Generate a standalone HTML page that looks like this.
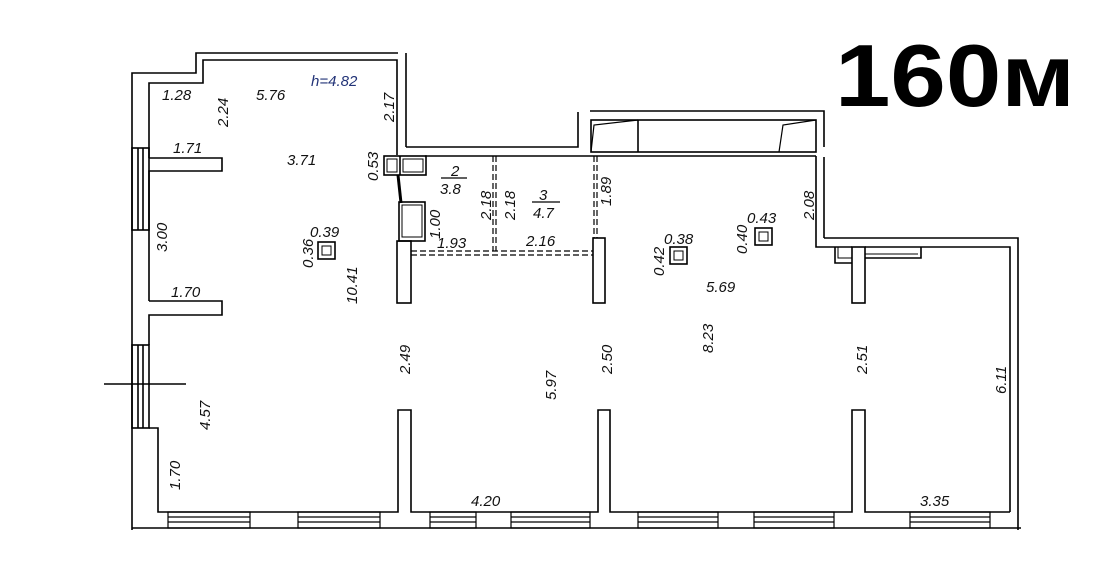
<!DOCTYPE html>
<html><head><meta charset="utf-8"><style>
html,body{margin:0;padding:0;background:#fff;}
svg{display:block;}
text{font-family:"Liberation Sans",sans-serif;font-style:italic;font-size:15px;fill:#111;}
</style></head><body>
<svg width="1098" height="584" viewBox="0 0 1098 584" xmlns="http://www.w3.org/2000/svg">
<g fill="none" stroke="#000" stroke-width="1.6">
<!-- left outer wall -->
<polyline points="132,530 132,73 149,73"/>
<polyline points="149,73 196,73 196,53 398,53"/>
<polyline points="149,158 149,83 203,83 203,60 397,60 397,155"/>
<line x1="406" y1="53" x2="406" y2="147"/>
<polyline points="406,147 578,147 578,112"/>
<!-- 1.71 wall -->
<polyline points="149,158 222,158 222,171 149,171 149,301"/>
<polyline points="149,301 222,301 222,315 149,315 149,345"/>
<!-- left windows -->
<rect x="132" y="148" width="17" height="82"/>
<line x1="138" y1="148" x2="138" y2="230"/><line x1="143" y1="148" x2="143" y2="230"/>
<rect x="132" y="345" width="17" height="83"/>
<line x1="138" y1="345" x2="138" y2="428"/><line x1="143" y1="345" x2="143" y2="428"/>
<line x1="104" y1="384" x2="186" y2="384"/>
<polyline points="149,428 158,428 158,512 398,512 398,410 411,410 411,512 598,512 598,410 610,410 610,512 852,512 852,410 865,410 865,512 1010,512"/>
<line x1="132" y1="528" x2="1021" y2="528"/>
<!-- small boxes -->
<rect x="384" y="156" width="42" height="19"/>
<line x1="400" y1="156" x2="400" y2="175"/>
<rect x="387" y="159" width="10" height="13" stroke-width="1"/>
<rect x="403" y="159" width="20" height="13" stroke-width="1"/>
<line x1="398" y1="175" x2="401" y2="203" stroke-width="3"/>
<rect x="399" y="202" width="26" height="39"/>
<rect x="402" y="205" width="20" height="32" stroke-width="1"/>
<rect x="397" y="241" width="14" height="62"/>
<line x1="425" y1="156" x2="595" y2="156"/>
<!-- dashed -->
<g stroke-dasharray="6,3" stroke-width="1.2">
<line x1="411" y1="251" x2="593" y2="251"/><line x1="411" y1="255" x2="593" y2="255"/>
<line x1="493" y1="156" x2="493" y2="251"/><line x1="496" y1="156" x2="496" y2="251"/>
<line x1="594" y1="156" x2="594" y2="238"/><line x1="597" y1="156" x2="597" y2="238"/>
</g>
<rect x="593" y="238" width="12" height="65"/>
<!-- top right unit -->
<polyline points="590,111 824,111 824,147"/>
<line x1="824" y1="157" x2="824" y2="238"/>
<rect x="591" y="120" width="225" height="32"/>
<line x1="638" y1="120" x2="638" y2="152"/>
<polyline points="591,152 594,125 638,120" stroke-width="1.2"/>
<polyline points="779,152 783,125 816,120" stroke-width="1.2"/>
<line x1="595" y1="156" x2="816" y2="156"/>
<polyline points="816,156 816,247 852,247"/>
<polyline points="824,238 1018,238 1018,530"/>
<polyline points="865,247 1010,247 1010,512"/>
<rect x="852" y="247" width="13" height="56"/>
<polyline points="852,263 835,263 835,247"/>
<polyline points="852,258 838,258 838,247" stroke-width="1"/>
<polyline points="865,258 921,258 921,247"/>
<line x1="865" y1="254" x2="918" y2="254" stroke-width="1"/>
<!-- vents -->
<rect x="318" y="242" width="17" height="17"/><rect x="322" y="246" width="9" height="9" stroke-width="1"/>
<rect x="670" y="247" width="17" height="17"/><rect x="674" y="251" width="9" height="9" stroke-width="1"/>
<rect x="755" y="228" width="17" height="17"/><rect x="759" y="232" width="9" height="9" stroke-width="1"/>
<!-- bottom windows -->
<g stroke-width="1.2">
<rect x="168" y="512" width="82" height="16"/><line x1="168" y1="517" x2="250" y2="517"/><line x1="168" y1="522" x2="250" y2="522"/>
<rect x="298" y="512" width="82" height="16"/><line x1="298" y1="517" x2="380" y2="517"/><line x1="298" y1="522" x2="380" y2="522"/>
<rect x="430" y="512" width="46" height="16"/><line x1="430" y1="517" x2="476" y2="517"/><line x1="430" y1="522" x2="476" y2="522"/>
<rect x="511" y="512" width="79" height="16"/><line x1="511" y1="517" x2="590" y2="517"/><line x1="511" y1="522" x2="590" y2="522"/>
<rect x="638" y="512" width="80" height="16"/><line x1="638" y1="517" x2="718" y2="517"/><line x1="638" y1="522" x2="718" y2="522"/>
<rect x="754" y="512" width="80" height="16"/><line x1="754" y1="517" x2="834" y2="517"/><line x1="754" y1="522" x2="834" y2="522"/>
<rect x="910" y="512" width="80" height="16"/><line x1="910" y1="517" x2="990" y2="517"/><line x1="910" y1="522" x2="990" y2="522"/>
</g>
<line x1="444" y1="205" x2="468" y2="177" stroke-width="0"/>
<line x1="441" y1="178" x2="467" y2="178" stroke-width="1.2"/>
<line x1="532" y1="202" x2="560" y2="202" stroke-width="1.2"/>
</g>
<text x="162" y="100">1.28</text>
<text x="256" y="100">5.76</text>
<text x="311" y="86" style="fill:#223377">h=4.82</text>
<text x="173" y="153">1.71</text>
<text x="287" y="165">3.71</text>
<text x="171" y="297">1.70</text>
<text x="310" y="237">0.39</text>
<text x="440" y="194">3.8</text>
<text x="451" y="176">2</text>
<text x="437" y="248">1.93</text>
<text x="526" y="246">2.16</text>
<text x="539" y="200">3</text>
<text x="533" y="218">4.7</text>
<text x="664" y="244">0.38</text>
<text x="747" y="223">0.43</text>
<text x="706" y="292">5.69</text>
<text x="471" y="506">4.20</text>
<text x="920" y="506">3.35</text>
<g>
<text transform="translate(228,127) rotate(-90)">2.24</text>
<text transform="translate(394,122) rotate(-90)">2.17</text>
<text transform="translate(378,181) rotate(-90)">0.53</text>
<text transform="translate(167,252) rotate(-90)">3.00</text>
<text transform="translate(313,268) rotate(-90)">0.36</text>
<text transform="translate(357,304) rotate(-90)">10.41</text>
<text transform="translate(440,239) rotate(-90)">1.00</text>
<text transform="translate(491,220) rotate(-90)">2.18</text>
<text transform="translate(515,220) rotate(-90)">2.18</text>
<text transform="translate(611,206) rotate(-90)">1.89</text>
<text transform="translate(664,276) rotate(-90)">0.42</text>
<text transform="translate(747,254) rotate(-90)">0.40</text>
<text transform="translate(814,220) rotate(-90)">2.08</text>
<text transform="translate(410,374) rotate(-90)">2.49</text>
<text transform="translate(612,374) rotate(-90)">2.50</text>
<text transform="translate(713,353) rotate(-90)">8.23</text>
<text transform="translate(556,400) rotate(-90)">5.97</text>
<text transform="translate(867,374) rotate(-90)">2.51</text>
<text transform="translate(1006,394) rotate(-90)">6.11</text>
<text transform="translate(210,430) rotate(-90)">4.57</text>
<text transform="translate(180,490) rotate(-90)">1.70</text>
</g>
<text x="835" y="106" textLength="240" lengthAdjust="spacingAndGlyphs" style="font-style:normal;font-weight:bold;font-size:88px;fill:#000">160м</text>
</svg>
</body></html>
